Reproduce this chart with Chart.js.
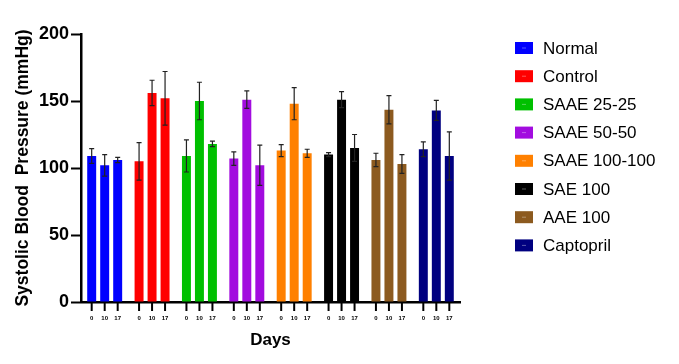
<!DOCTYPE html>
<html>
<head>
<meta charset="utf-8">
<script src="https://cdn.jsdelivr.net/npm/chart.js@4.4.1/dist/chart.umd.min.js"></script>
<style>
  html, body { margin: 0; padding: 0; background: #fff; }
  #wrap { width: 679px; height: 364px; }
</style>
</head>
<body>
<div id="wrap"><canvas id="bpChart" width="679" height="364"></canvas></div>
<script>
// groups, days and values
const groups = ["Normal", "Control", "SAAE 25-25", "SAAE 50-50", "SAAE 100-100", "SAE 100", "AAE 100", "Captopril"];
const groupColors = ["#0000FF", "#FF0000", "#00C000", "#A20CDF", "#FF8000", "#000000", "#8C5A1F", "#000080"];
const days = ["0", "10", "17"];

const day0 = [109, 105, 109, 107, 113, 110, 106, 114];
const day10 = [102, 156, 150, 151, 148, 151, 143.5, 143];
const day17 = [106, 152, 118, 102, 111, 115, 103, 109];

const sd0 = [5.5, 14, 12, 5, 4.5, 1.5, 5, 5.5];
const sd10 = [8, 9.5, 14, 6.5, 12, 6, 10.5, 7.5];
const sd17 = [2, 20, 2, 15, 3, 10, 7, 18];

const yTicks = [0, 50, 100, 150, 200];

const dayValues = [day0, day10, day17];
const daySd = [sd0, sd10, sd17];

// error bars + small day ticks under each bar + side legend
const extras = {
  id: "extras",
  afterDatasetsDraw(chart) {
    const ctx = chart.ctx;
    const y = chart.scales.y;
    const bottom = chart.chartArea.bottom;
    ctx.save();
    dayValues.forEach((vals, d) => {
      const meta = chart.getDatasetMeta(d);
      meta.data.forEach((bar, g) => {
        const x = bar.x;
        const top = y.getPixelForValue(vals[g] + daySd[d][g]);
        const low = y.getPixelForValue(vals[g] - daySd[d][g]);
        ctx.strokeStyle = "#222";
        ctx.lineWidth = 1.2;
        ctx.beginPath();
        ctx.moveTo(x, top); ctx.lineTo(x, low);
        ctx.moveTo(x - 2.5, top); ctx.lineTo(x + 2.5, top);
        ctx.moveTo(x - 2.5, low); ctx.lineTo(x + 2.5, low);
        ctx.stroke();

        // tick mark below axis
        ctx.strokeStyle = "#000";
        ctx.lineWidth = 2;
        ctx.beginPath();
        ctx.moveTo(x, bottom); ctx.lineTo(x, bottom + 9);
        ctx.stroke();
        ctx.fillStyle = "#000";
        ctx.font = "bold 6px 'Liberation Sans', Arial, sans-serif";
        ctx.textAlign = "center";
        ctx.textBaseline = "middle";
        ctx.fillText(days[d], x, bottom + 16);
      });
    });

    // legend
    ctx.font = "17px 'Liberation Sans', Arial, sans-serif";
    ctx.textAlign = "left";
    ctx.textBaseline = "middle";
    groups.forEach((name, i) => {
      const cy = 48 + i * 28.2;
      ctx.fillStyle = groupColors[i];
      ctx.fillRect(515, cy - 6, 18, 12);
      ctx.strokeStyle = "rgba(255,255,255,0.35)";
      ctx.lineWidth = 1;
      ctx.beginPath();
      ctx.moveTo(522, cy); ctx.lineTo(526, cy);
      ctx.stroke();
      ctx.fillStyle = "#000";
      ctx.fillText(name, 543, cy + 1);
    });
    ctx.restore();
  }
};

new Chart(document.getElementById("bpChart"), {
  type: "bar",
  data: {
    labels: groups,
    datasets: dayValues.map((vals, d) => ({
      label: "Day " + days[d],
      data: vals,
      backgroundColor: groupColors,
      borderWidth: 0,
      categoryPercentage: 0.823,
      barPercentage: 0.69
    }))
  },
  options: {
    responsive: false,
    animation: false,
    layout: { padding: { left: 0, right: 219, top: 34, bottom: 0 } },
    plugins: { legend: { display: false }, tooltip: { enabled: false } },
    scales: {
      x: {
        grid: { display: false },
        border: { color: "#000", width: 2.5 },
        ticks: { display: false },
        title: {
          display: true, text: "Days", color: "#000",
          font: { family: "'Liberation Sans', Arial, sans-serif", size: 17, weight: "bold" },
          padding: { top: 0, bottom: 13 }
        },
        afterFit(scale) { scale.height = 62; }
      },
      y: {
        min: 0, max: 200,
        afterBuildTicks(scale) { scale.ticks = yTicks.map(v => ({ value: v })); },
        grid: { drawOnChartArea: false, tickLength: 10, tickWidth: 2, tickColor: "#000" },
        border: { color: "#000", width: 2.5 },
        ticks: {
          color: "#000", padding: 2,
          font: { family: "'Liberation Sans', Arial, sans-serif", size: 18, weight: "bold" }
        },
        title: {
          display: true, text: "Systolic Blood  Pressure (mmHg)", color: "#000",
          font: { family: "'Liberation Sans', Arial, sans-serif", size: 17.5, weight: "bold" },
          padding: { top: 13, bottom: 0 }
        },
        afterFit(scale) { scale.width = 81; }
      }
    }
  },
  plugins: [extras]
});
</script>
</body>
</html>
